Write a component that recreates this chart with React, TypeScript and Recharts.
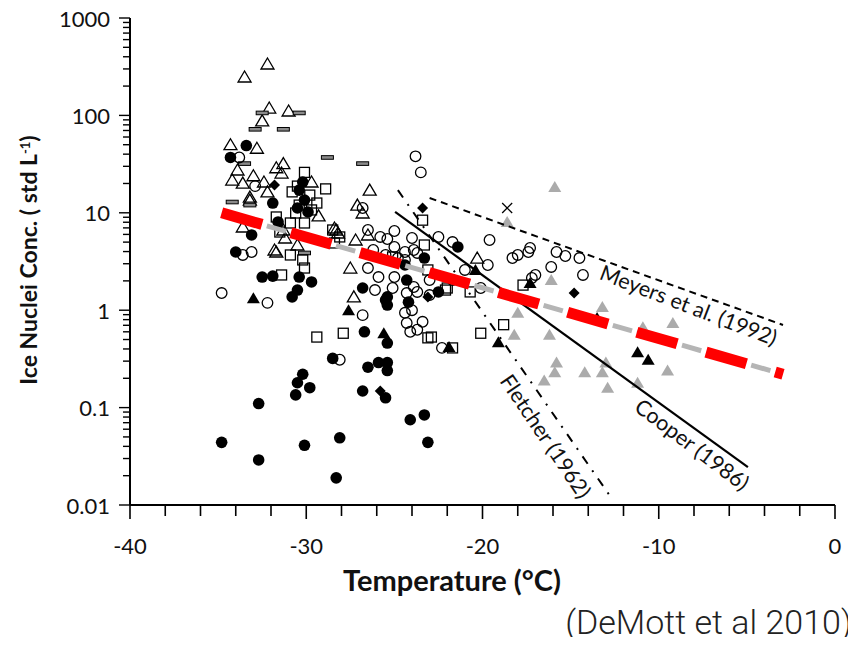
import React from 'react';
import { ScatterChart, Scatter, XAxis, YAxis } from 'recharts';

// [temperature °C, ice nuclei concentration std L-1]
type Obs = [number, number];

const openTriangles: Obs[] = [
  [-32.2, 337], [-33.5, 248], [-32.1, 119], [-31.0, 111], [-32.5, 88], [-34.3, 50],
  [-32.8, 46], [-31.3, 32], [-31.7, 29], [-31.4, 25.6], [-33.9, 27.5], [-34.2, 21.7],
  [-33.0, 24], [-33.6, 20.2], [-32.4, 20.7], [-33.2, 14.5], [-32.2, 16.4], [-29.7, 20.7],
  [-26.4, 17.1], [-27.1, 12.0], [-26.8, 9.95], [-29.3, 9.3], [-33.6, 7.15], [-31.3, 6.66],
  [-28.3, 6.66], [-27.2, 5.26], [-33.2, 13.5], [-31.8, 4.15], [-31.2, 5.51], [-30.5, 4.67],
  [-31.7, 3.96], [-27.5, 2.71], [-27.3, 1.37], [-26.5, 5.92], [-28.4, 6.98], [-28.2, 6.2],
  [-20.3, 3.43],
];

const dashMarks: Obs[] = [
  [-32.5, 106], [-30.4, 106], [-32.9, 72], [-31.3, 72], [-28.8, 37], [-33.5, 32],
  [-26.8, 32], [-34.2, 12.9], [-33.2, 12.0], [-30.1, 3.87],
];

const filledCircles: Obs[] = [
  [-33.4, 49], [-34.3, 37], [-31.9, 12.6], [-31.6, 8.05], [-33.1, 5.92], [-34.0, 3.96],
  [-32.5, 2.19], [-31.9, 2.24], [-30.4, 2.19], [-29.7, 1.95], [-30.5, 1.61], [-30.8, 1.37],
  [-26.8, 1.69], [-25.5, 1.27], [-25.4, 1.13], [-26.7, 0.6], [-25.4, 0.46], [-28.5, 0.32],
  [-30.2, 0.22], [-30.5, 0.18], [-29.8, 0.16], [-30.6, 0.135], [-32.7, 0.11], [-26.5, 0.26],
  [-25.9, 0.29], [-25.4, 0.29], [-25.4, 0.24], [-26.8, 0.148], [-25.5, 0.126], [-24.1, 0.075],
  [-23.3, 0.084], [-34.8, 0.044], [-30.1, 0.041], [-28.1, 0.049], [-32.7, 0.029], [-23.1, 0.044],
  [-28.3, 0.019], [-24.3, 2.04], [-24.2, 1.21], [-23.3, 3.43], [-21.4, 4.46], [-24.4, 2.91],
  [-22.5, 1.54], [-25.4, 1.37], [-30.4, 17.1], [-30.1, 13.5], [-30.5, 11.2], [-29.9, 10.2],
  [-30.2, 20.7],
];

const openCircles: Obs[] = [
  [-33.8, 37], [-32.9, 18.8], [-34.8, 1.5], [-33.6, 3.69], [-33.1, 3.96], [-32.2, 1.19],
  [-26.8, 11.2], [-26.5, 6.66], [-25.8, 5.65], [-25.4, 5.38], [-25.0, 6.5], [-24.0, 5.51],
  [-22.5, 5.65], [-21.7, 5.01], [-26.2, 4.15], [-25.5, 3.69], [-25.0, 4.46], [-24.4, 3.96],
  [-23.9, 4.15], [-24.8, 3.43], [-23.7, 3.87], [-25.9, 2.19], [-26.5, 2.71], [-24.4, 3.28],
  [-26.1, 1.61], [-25.1, 1.69], [-21.0, 2.59], [-21.7, 2.04], [-23.7, 1.54], [-24.3, 1.5],
  [-23.0, 2.04], [-25.0, 2.19], [-23.8, 38], [-23.5, 26], [-26.8, 0.89], [-28.1, 0.31],
  [-24.3, 0.74], [-23.4, 0.76], [-23.7, 0.63], [-24.1, 0.6], [-22.3, 0.41], [-24.4, 0.94],
  [-23.9, 1.73], [-24.0, 1.0], [-23.0, 1.43], [-19.6, 5.26], [-18.3, 3.43], [-18.0, 3.69],
  [-17.4, 3.96], [-17.3, 4.35], [-15.8, 3.96], [-15.3, 3.6], [-14.5, 3.43], [-16.1, 2.78],
  [-14.3, 2.3], [-19.7, 2.91], [-17.0, 2.3], [-17.2, 2.14], [-20.1, 1.69],
];

const openSquares: Obs[] = [
  [-30.1, 26], [-28.9, 17.6], [-30.8, 16.4], [-29.4, 12.6], [-31.7, 9.06], [-31.5, 6.35],
  [-30.9, 7.86], [-28.5, 6.66], [-28.1, 5.65], [-31.4, 2.3], [-30.9, 3.69], [-30.1, 2.71],
  [-30.2, 3.28], [-30.1, 7.86], [-29.4, 0.53], [-27.9, 0.58], [-23.1, 0.52], [-22.9, 0.53],
  [-21.7, 0.41], [-23.1, 2.59], [-23.3, 4.67], [-22.0, 1.69], [-28.4, 4.9], [-23.4, 8.4],
  [-25.1, 3.52], [-22.1, 1.61], [-20.7, 1.54], [-17.7, 1.81], [-18.8, 0.71], [-20.1, 0.58],
  [-30.5, 18.8], [-29.8, 15.2], [-30.4, 12.0], [-30.6, 9.95], [-29.7, 10.7],
];

const filledDiamonds: Obs[] = [
  [-31.8, 19.3], [-23.4, 11.2], [-14.8, 1.5], [-23.1, 1.37], [-25.8, 0.148],
];

const filledTriangles: Obs[] = [
  [-33.0, 1.33], [-27.6, 1.0], [-25.6, 0.58], [-21.9, 0.42], [-20.4, 2.59], [-17.3, 1.9],
  [-19.1, 0.47], [-13.5, 0.83], [-11.2, 0.37], [-10.6, 0.31],
];

const grayTriangles: Obs[] = [
  [-15.9, 18.4], [-18.6, 8.05], [-16.1, 2.04], [-13.2, 1.08], [-9.2, 0.74], [-10.9, 0.67],
  [-18.0, 0.94], [-18.2, 0.56], [-16.2, 0.56], [-15.8, 0.29], [-15.9, 0.23], [-16.5, 0.19],
  [-14.2, 0.23], [-13.0, 0.29], [-13.2, 0.23], [-12.9, 0.16], [-11.2, 0.18], [-9.5, 0.24],
];

const crosses: Obs[] = [[-18.6, 11.2]];

// parameterisation curves, straight on the log axis
const fletcher1962: Obs[] = [[-24.8, 17.1], [-12.6, 0.0112]];
const cooper1986: Obs[] = [[-24.96, 10.2], [-4.94, 0.0245]];
const meyers1992: Obs[] = [[-23.0, 14.2], [-2.95, 0.705]];
const demott2010: Obs[] = [[-34.8, 10], [-2.95, 0.22]];

const meyersLabelAt: Obs = [-8.3, 1.13];
const cooperLabelAt: Obs = [-8.1, 0.042];
const fletcherLabelAt: Obs = [-16.4, 0.051];

const xTicks = [-40, -38, -36, -34, -32, -30, -28, -26, -24, -22, -20, -18, -16, -14, -12, -10, -8, -6, -4, -2, 0];
const xLabels = [-40, -30, -20, -10, 0];
const yMajor = [0.01, 0.1, 1, 10, 100, 1000];
const yLabels = ['0.01', '0.1', '1', '10', '100', '1000'];

const yTicks: number[] = [];
yMajor.forEach((d, i) => {
  yTicks.push(d);
  if (i < yMajor.length - 1) for (let m = 2; m <= 9; m++) yTicks.push(d * m);
});

const toRows = (pts: Obs[]) => pts.map(([t, n]) => ({ t, n }));

const FONT = 'Lato, "Open Sans", sans-serif';

const Marker = ({ cx, cy, kind }: { cx: number; cy: number; kind: string }) => {
  if (cx == null || cy == null) return <g />;
  const sw = 1.3;
  switch (kind) {
    case 'filledCircle':
      return <circle cx={cx} cy={cy} r={5.8} fill="#000" />;
    case 'openCircle':
      return <circle cx={cx} cy={cy} r={5.3} fill="none" stroke="#000" strokeWidth={sw} />;
    case 'openSquare':
      return <rect x={cx - 5} y={cy - 5} width={10} height={10} fill="none" stroke="#000" strokeWidth={sw} />;
    case 'dash':
      return <rect x={cx - 6} y={cy - 1.8} width={12} height={3.6} fill="#8a8a8a" stroke="#000" strokeWidth={1} />;
    case 'diamond':
      return <path d={`M${cx},${cy - 5.5}L${cx + 5.5},${cy}L${cx},${cy + 5.5}L${cx - 5.5},${cy}Z`} fill="#000" />;
    case 'cross':
      return (
        <path d={`M${cx - 5},${cy - 5}L${cx + 5},${cy + 5}M${cx + 5},${cy - 5}L${cx - 5},${cy + 5}`} stroke="#000" strokeWidth={sw} />
      );
    default: {
      const d = `M${cx},${cy - 6}L${cx + 6.5},${cy + 5}L${cx - 6.5},${cy + 5}Z`;
      if (kind === 'openTriangle') return <path d={d} fill="none" stroke="#000" strokeWidth={sw} />;
      if (kind === 'grayTriangle') return <path d={d} fill="#ababab" />;
      return <path d={d} fill="#000" />;
    }
  }
};

const markerShape = (kind: string) => (p: any) => <Marker cx={p.cx} cy={p.cy} kind={kind} />;

const labelShape = (text: string, angle: number) => (p: any) =>
  p.cx == null ? <g /> : (
    <text
      x={p.cx}
      y={p.cy}
      transform={`rotate(${angle} ${p.cx} ${p.cy})`}
      textAnchor="middle"
      dominantBaseline="central"
      fontFamily={FONT}
      fontSize={21.5}
      fill="#111"
    >
      {text}
    </text>
  );

const XTick = ({ x, y, payload }: any) => {
  const major = xLabels.includes(payload.value);
  return (
    <g>
      <line x1={x} x2={x} y1={y} y2={y + (major ? 14 : 11)} stroke="#000" strokeWidth={1.6} />
      {major && (
        <text x={x} y={y + 40} textAnchor="middle" dominantBaseline="central" fontFamily={FONT} fontSize={22} fill="#111">
          {payload.value}
        </text>
      )}
    </g>
  );
};

const YTick = ({ x, y, payload }: any) => {
  const idx = yMajor.indexOf(payload.value);
  const major = idx >= 0;
  return (
    <g>
      <line x1={x - (major ? 11 : 7)} x2={x} y1={y} y2={y} stroke="#000" strokeWidth={1.4} />
      {major && (
        <text x={x - 20} y={y} textAnchor="end" dominantBaseline="central" fontFamily={FONT} fontSize={22} fill="#111">
          {yLabels[idx]}
        </text>
      )}
    </g>
  );
};

const hidden = () => <g />;

export default function App() {
  // pulled up over the body margin so the top tick label has room
  return (
    <div style={{ position: 'relative', width: 848, height: 637, marginTop: -8 }}>
      <ScatterChart width={848} height={637} margin={{ top: 18, right: 21, bottom: 47, left: 0 }}>
        <XAxis
          type="number"
          dataKey="t"
          domain={[-40, 0]}
          ticks={xTicks}
          interval={0}
          tick={<XTick />}
          tickLine={false}
          tickSize={0}
          tickMargin={0}
          height={85}
          axisLine={{ stroke: '#000', strokeWidth: 2 }}
          allowDataOverflow
        />
        <YAxis
          type="number"
          dataKey="n"
          scale="log"
          domain={[0.01, 1000]}
          ticks={yTicks}
          interval={0}
          tick={<YTick />}
          tickLine={false}
          tickSize={0}
          tickMargin={0}
          width={122}
          axisLine={{ stroke: '#000', strokeWidth: 2 }}
          allowDataOverflow
        />

        <Scatter data={toRows(openTriangles)} shape={markerShape('openTriangle')} isAnimationActive={false} />
        <Scatter data={toRows(dashMarks)} shape={markerShape('dash')} isAnimationActive={false} />
        <Scatter data={toRows(openSquares)} shape={markerShape('openSquare')} isAnimationActive={false} />
        <Scatter data={toRows(openCircles)} shape={markerShape('openCircle')} isAnimationActive={false} />
        <Scatter data={toRows(filledCircles)} shape={markerShape('filledCircle')} isAnimationActive={false} />
        <Scatter data={toRows(filledDiamonds)} shape={markerShape('diamond')} isAnimationActive={false} />
        <Scatter data={toRows(grayTriangles)} shape={markerShape('grayTriangle')} isAnimationActive={false} />
        <Scatter data={toRows(filledTriangles)} shape={markerShape('filledTriangle')} isAnimationActive={false} />
        <Scatter data={toRows(crosses)} shape={markerShape('cross')} isAnimationActive={false} />

        <Scatter
          data={toRows(fletcher1962)}
          line={{ stroke: '#000', strokeWidth: 2, strokeDasharray: '9 8 2 8' }}
          lineType="joint"
          shape={hidden}
          isAnimationActive={false}
        />
        <Scatter
          data={toRows(cooper1986)}
          line={{ stroke: '#000', strokeWidth: 2.2 }}
          lineType="joint"
          shape={hidden}
          isAnimationActive={false}
        />
        <Scatter
          data={toRows(meyers1992)}
          line={{ stroke: '#000', strokeWidth: 2, strokeDasharray: '7 5' }}
          lineType="joint"
          shape={hidden}
          isAnimationActive={false}
        />
        <Scatter
          data={toRows(demott2010)}
          line={{ stroke: '#b5b5b5', strokeWidth: 5, strokeDasharray: '20 52', strokeDashoffset: 25 }}
          lineType="joint"
          shape={hidden}
          isAnimationActive={false}
        />
        <Scatter
          data={toRows(demott2010)}
          line={{ stroke: '#ff0000', strokeWidth: 11, strokeDasharray: '42 30' }}
          lineType="joint"
          shape={hidden}
          isAnimationActive={false}
        />

        <Scatter data={toRows([meyersLabelAt])} shape={labelShape('Meyers et al. (1992)', 21)} isAnimationActive={false} />
        <Scatter data={toRows([cooperLabelAt])} shape={labelShape('Cooper (1986)', 37)} isAnimationActive={false} />
        <Scatter data={toRows([fletcherLabelAt])} shape={labelShape('Fletcher (1962)', 56)} isAnimationActive={false} />
      </ScatterChart>

      <div
        style={{
          position: 'absolute',
          left: 20,
          top: 260,
          transform: 'translate(-50%, -50%) rotate(-90deg)',
          whiteSpace: 'nowrap',
          fontFamily: FONT,
          fontWeight: 700,
          fontSize: 23,
          color: '#111',
          lineHeight: '26px',
        }}
      >
        Ice Nuclei Conc. ( std L<sup style={{ fontSize: 13, verticalAlign: '0.55em', lineHeight: 0 }}>-1</sup>)
      </div>
      <div
        style={{
          position: 'absolute',
          left: 444,
          top: 580,
          transform: 'translate(-50%, -50%)',
          whiteSpace: 'nowrap',
          fontFamily: FONT,
          fontWeight: 700,
          fontSize: 29,
          color: '#111',
          lineHeight: '32px',
        }}
      >
        Temperature (°C)
      </div>
      <div
        style={{
          position: 'absolute',
          right: 4,
          top: 608,
          whiteSpace: 'nowrap',
          fontFamily: 'Roboto, sans-serif',
          fontWeight: 300,
          fontSize: 34,
          color: '#222',
          lineHeight: '28px',
        }}
      >
        (DeMott et al 2010)
      </div>
    </div>
  );
}
